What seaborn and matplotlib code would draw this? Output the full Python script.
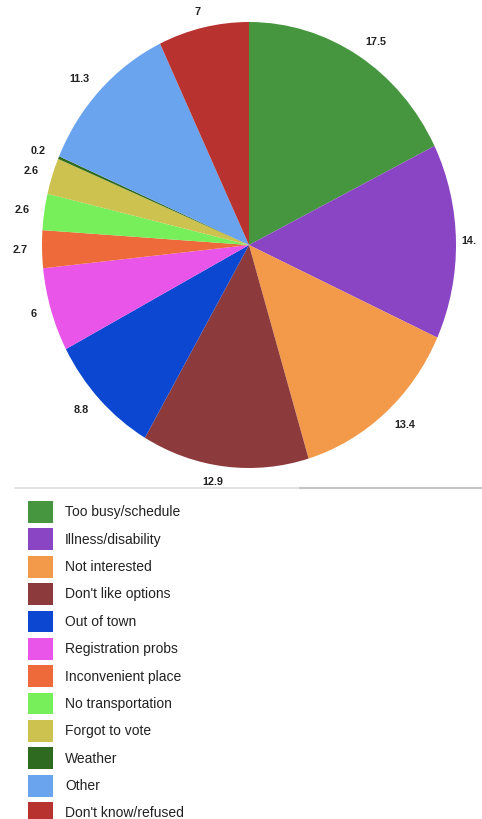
import matplotlib
matplotlib.use("Agg")
import matplotlib.pyplot as plt
from matplotlib.patches import Patch
from matplotlib.lines import Line2D
import seaborn as sns

categories = ["Too busy/schedule", "Illness/disability", "Not interested",
              "Don't like options", "Out of town", "Registration probs",
              "Inconvenient place", "No transportation", "Forgot to vote",
              "Weather", "Other", "Don't know/refused"]
values = [17.5, 14.0, 13.4, 12.9, 8.8, 6.0, 2.7, 2.6, 2.6, 0.2, 11.3, 7.0]
value_labels = ["17.5", "14.", "13.4", "12.9", "8.8", "6", "2.7", "2.6",
                "2.6", "0.2", "11.3", "7"]
colors_hex = ["#46963f", "#8a45c4", "#f29a4a", "#8d3a3c", "#0b47d1",
              "#e855e8", "#ee6a3a", "#76ef5a", "#cdc24f", "#2e6a1f",
              "#6aa3ee", "#b8322f"]

sns.set_theme(style="white")
plt.rcParams['font.family'] = ['Liberation Sans', 'DejaVu Sans']
palette = sns.color_palette(colors_hex)

W, H = 482, 819
fig = plt.figure(figsize=(W / 100, H / 100), dpi=100)
fig.patch.set_facecolor("white")

# pie axes covering the (slightly elliptical) pie box
x0, x1, y0, y1 = 42, 456, 22, 468
ax = fig.add_axes([x0 / W, 1 - y1 / H, (x1 - x0) / W, (y1 - y0) / H])
wedges, texts = ax.pie(values, labels=value_labels, colors=palette,
                       startangle=90, counterclock=False,
                       labeldistance=1.07,
                       wedgeprops=dict(linewidth=0),
                       textprops=dict(fontsize=7.8, fontweight="bold",
                                      color="#222222"))
ax.set_aspect("auto")
ax.set_xlim(-1, 1)
ax.set_ylim(-1, 1)
ax.axis("off")
for t in texts:
    t.set_clip_on(False)
# the right-hand label sits closer to the rim so it stays inside the figure
texts[1].set_x(1.025)

# separator line
fig.add_artist(Line2D([15 / W, 300 / W], [1 - 488 / H, 1 - 488 / H],
                      color="#e2e2e2", lw=1.5, transform=fig.transFigure))
fig.add_artist(Line2D([300 / W, 1.0], [1 - 488 / H, 1 - 488 / H],
                      color="#c4c4c4", lw=1.5, transform=fig.transFigure))

handles = [Patch(facecolor=c, edgecolor="none") for c in palette]
fig.legend(handles, categories, loc="upper left",
           bbox_to_anchor=(28 / W, 1 - 501 / H),
           frameon=False, fontsize=10, borderpad=0, borderaxespad=0,
           handlelength=1.8, handleheight=2.04, handletextpad=0.86,
           labelspacing=0.4, labelcolor="#222222")

fig.savefig("out.png", dpi=100, facecolor="white")
